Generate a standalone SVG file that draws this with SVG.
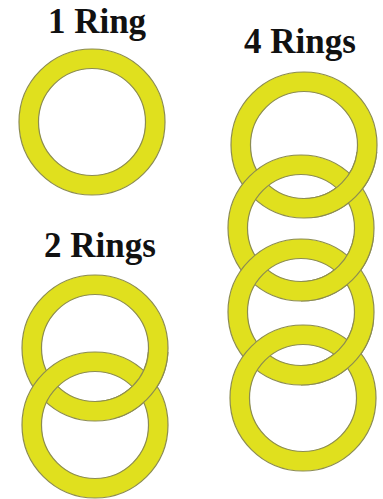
<svg xmlns="http://www.w3.org/2000/svg" xmlns:xlink="http://www.w3.org/1999/xlink" width="383" height="499" viewBox="0 0 383 499">
  <style>
    .title { font-family: "Liberation Serif", "Times New Roman", serif; font-weight: bold; font-size: 35px; fill: #111; text-anchor: middle; }
    .ring { fill: #e0e01e; fill-rule: evenodd; stroke: #8c8c50; stroke-width: 1.2; }
  </style>
  <defs>
    <path id="ring" class="ring" d="M -73 0 A 73 73 0 1 0 73 0 A 73 73 0 1 0 -73 0 Z M -53.5 0 A 53.5 53.5 0 1 0 53.5 0 A 53.5 53.5 0 1 0 -53.5 0 Z"/>
    <clipPath id="c2a" clipPathUnits="userSpaceOnUse"><rect x="95" y="352" width="90" height="66"/></clipPath>
    <clipPath id="c4a" clipPathUnits="userSpaceOnUse"><rect x="302" y="152" width="90" height="66"/></clipPath>
    <clipPath id="c4b" clipPathUnits="userSpaceOnUse"><rect x="301" y="236" width="90" height="66"/></clipPath>
    <clipPath id="c4c" clipPathUnits="userSpaceOnUse"><rect x="301" y="321" width="90" height="66"/></clipPath>
  </defs>
  <rect width="383" height="499" fill="#ffffff"/>

  <g id="one-ring">
    <text class="title" x="97" y="33">1 Ring</text>
    <use xlink:href="#ring" href="#ring" transform="translate(92 122)"/>
  </g>

  <g id="two-rings">
    <text class="title" x="100" y="257">2 Rings</text>
    <use xlink:href="#ring" href="#ring" transform="translate(95 348)"/>
    <use xlink:href="#ring" href="#ring" transform="translate(95 425)"/>
    <g clip-path="url(#c2a)"><use xlink:href="#ring" href="#ring" transform="translate(95 348)"/></g>
  </g>

  <g id="four-rings">
    <text class="title" x="300" y="53">4 Rings</text>
    <use xlink:href="#ring" href="#ring" transform="translate(304 145)"/>
    <use xlink:href="#ring" href="#ring" transform="translate(301 228)"/>
    <use xlink:href="#ring" href="#ring" transform="translate(301 312)"/>
    <use xlink:href="#ring" href="#ring" transform="translate(303 398)"/>
    <g clip-path="url(#c4a)"><use xlink:href="#ring" href="#ring" transform="translate(304 145)"/></g>
    <g clip-path="url(#c4b)"><use xlink:href="#ring" href="#ring" transform="translate(301 228)"/></g>
    <g clip-path="url(#c4c)"><use xlink:href="#ring" href="#ring" transform="translate(301 312)"/></g>
  </g>

  <g id="connectors"/>
</svg>
